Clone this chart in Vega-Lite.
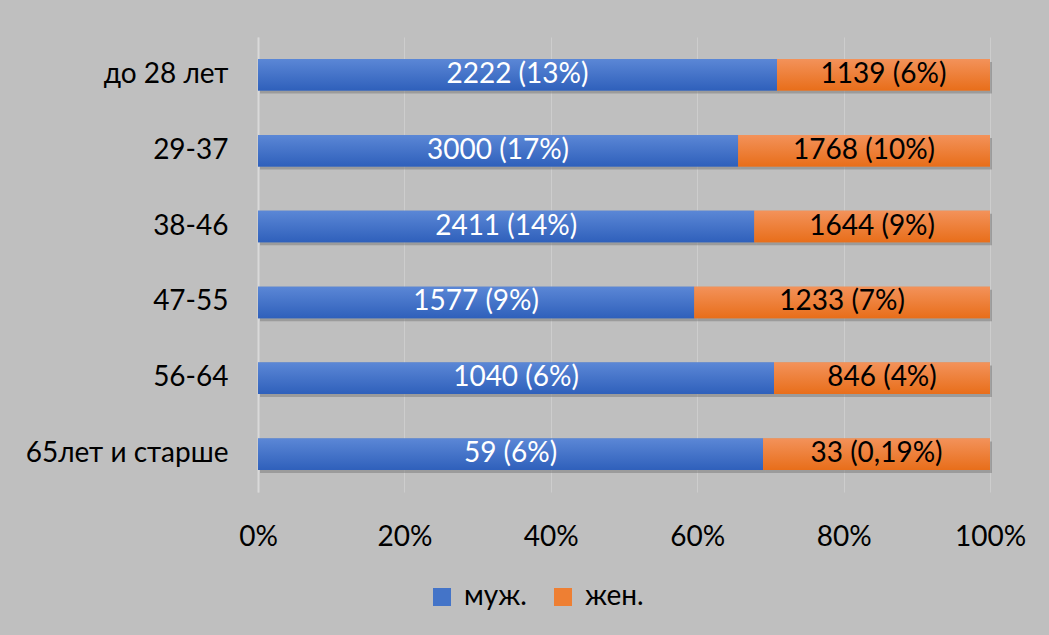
{
  "$schema": "https://vega.github.io/schema/vega-lite/v6.json",
  "width": 732,
  "height": 455,
  "autosize": "none",
  "padding": {"left": 258, "top": 37, "right": 59, "bottom": 143},
  "background": "#bfbfbf",
  "config": {
    "view": {"stroke": null},
    "font": "Lato",
    "text": {"font": "Lato"}
  },
  "data": {
    "values": [
      {"age": "до 28 лет", "sex": "муж.", "share": 70.9, "label": "2222 (13%)"},
      {"age": "до 28 лет", "sex": "жен.", "share": 29.1, "label": "1139 (6%)"},
      {"age": "29-37", "sex": "муж.", "share": 65.6, "label": "3000 (17%)"},
      {"age": "29-37", "sex": "жен.", "share": 34.4, "label": "1768 (10%)"},
      {"age": "38-46", "sex": "муж.", "share": 67.8, "label": "2411 (14%)"},
      {"age": "38-46", "sex": "жен.", "share": 32.2, "label": "1644 (9%)"},
      {"age": "47-55", "sex": "муж.", "share": 59.6, "label": "1577 (9%)"},
      {"age": "47-55", "sex": "жен.", "share": 40.4, "label": "1233 (7%)"},
      {"age": "56-64", "sex": "муж.", "share": 70.5, "label": "1040 (6%)"},
      {"age": "56-64", "sex": "жен.", "share": 29.5, "label": "846 (4%)"},
      {"age": "65лет и старше", "sex": "муж.", "share": 69.0, "label": "59 (6%)"},
      {"age": "65лет и старше", "sex": "жен.", "share": 31.0, "label": "33 (0,19%)"}
    ]
  },
  "encoding": {
    "y": {
      "field": "age",
      "type": "nominal",
      "sort": ["до 28 лет", "29-37", "38-46", "47-55", "56-64", "65лет и старше"],
      "scale": {"paddingInner": 0.585, "paddingOuter": 0.29},
      "axis": {
        "title": null,
        "ticks": false,
        "domain": true,
        "domainColor": "#d9d9d9",
        "domainWidth": 2,
        "labelFontSize": 28,
        "labelColor": "#000000",
        "labelPadding": 30,
        "labelLimit": 400,
        "labelFont": "Lato"
      }
    }
  },
  "layer": [
    {
      "mark": {"type": "bar", "color": "#6e6e6e", "opacity": 0.45, "yOffset": 3, "xOffset": 2},
      "encoding": {
        "x": {"field": "share", "type": "quantitative", "stack": "normalize"},
        "detail": {"field": "sex"},
        "order": {"field": "sex", "sort": "descending"}
      }
    },
    {
      "mark": {"type": "bar"},
      "encoding": {
        "x": {
          "field": "share",
          "type": "quantitative",
          "stack": "normalize",
          "scale": {"domain": [0, 1]},
          "axis": {
            "title": null,
            "format": ".0%",
            "values": [0, 0.2, 0.4, 0.6, 0.8, 1],
            "ticks": false,
            "domain": false,
            "grid": true,
            "gridColor": "#cdcdcd",
            "gridWidth": 1,
            "labelFontSize": 28,
            "labelColor": "#000000",
            "labelPadding": 31,
            "labelFlush": false,
            "labelFont": "Lato"
          }
        },
        "color": {
          "field": "sex",
          "type": "nominal",
          "scale": {
            "domain": ["муж.", "жен."],
            "range": ["#4474c8", "#ee7f33"]
          },
          "legend": {
            "title": null,
            "orient": "none",
            "legendX": 170,
            "legendY": 546,
            "direction": "horizontal",
            "symbolType": "square",
            "symbolSize": 324,
            "symbolStrokeWidth": 0,
            "symbolOpacity": 1,
            "labelFontSize": 28,
            "labelColor": "#000000",
            "labelFont": "Lato",
            "labelOffset": 8,
            "columnPadding": 22
          }
        },
        "order": {"field": "sex", "sort": "descending"}
      }
    },
    {
      "mark": {"type": "bar"},
      "encoding": {
        "x": {"field": "share", "type": "quantitative", "stack": "normalize"},
        "detail": {"field": "sex"},
        "order": {"field": "sex", "sort": "descending"},
        "color": {
          "condition": {
            "test": "datum.sex === 'муж.'",
            "value": {"gradient": "linear", "x1": 0, "y1": 0, "x2": 0, "y2": 1, "stops": [{"offset": 0, "color": "#5b87d6"}, {"offset": 1, "color": "#2f60bb"}]}
          },
          "value": {"gradient": "linear", "x1": 0, "y1": 0, "x2": 0, "y2": 1, "stops": [{"offset": 0, "color": "#f3925a"}, {"offset": 1, "color": "#e86e1a"}]}
        }
      }
    },
    {
      "mark": {"type": "text", "fontSize": 28, "baseline": "middle", "align": "center"},
      "encoding": {
        "x": {"field": "share", "type": "quantitative", "stack": "normalize", "bandPosition": 0.5},
        "detail": {"field": "sex"},
        "order": {"field": "sex", "sort": "descending"},
        "text": {"field": "label"},
        "color": {
          "condition": {"test": "datum.sex === 'муж.'", "value": "#ffffff"},
          "value": "#000000"
        }
      }
    }
  ]
}
